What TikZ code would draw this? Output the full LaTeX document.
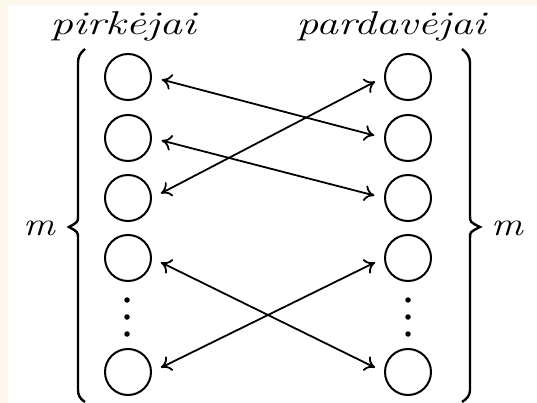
\documentclass[tikz,border=0pt]{standalone}
\usetikzlibrary{arrows.meta}
\definecolor{cream}{RGB}{253,248,236}
\begin{document}
\begin{tikzpicture}[x=1pt,y=-1pt,
  agent/.style={circle,draw,line width=2pt,minimum size=46pt,inner sep=0pt},
  link/.style={{To[length=10pt,width=16pt]}-{To[length=10pt,width=16pt]},line width=1.8pt,shorten <=10pt,shorten >=10pt},
  brc/.style={line width=2.4pt,line join=miter},
  lab/.style={inner sep=0pt,anchor=base,font=\fontsize{33}{36}\selectfont\itshape},
  dot/.style={circle,fill,inner sep=0pt,minimum size=5.5pt}]
\useasboundingbox (0,0) rectangle (537,403);
\fill[cream] (0,0) rectangle (537,5);
\fill[cream] (0,0) rectangle (8,403);
% nodes
\node[agent] (L1) at (128,77) {};
\node[agent] (L2) at (128,138) {};
\node[agent] (L3) at (128,198) {};
\node[agent] (L4) at (128,258) {};
\node[agent] (L5) at (128,372) {};
\node[agent] (R1) at (408,77) {};
\node[agent] (R2) at (408,138) {};
\node[agent] (R3) at (408,198) {};
\node[agent] (R4) at (408,258) {};
\node[agent] (R5) at (408,372) {};
\foreach \y [count=\i] in {300,317,334}{
  \node[dot] (dl\i) at (127,\y) {};
  \node[dot] (dr\i) at (408,\y) {};
}
% labels
\node[lab] (tl) at (123,35) {\scalebox{1.37}[1]{pirkėjai}};
\node[lab] (tr) at (391,35) {\scalebox{1.33}[1]{pardavėjai}};
\node[lab] (ml) at (39,235) {\scalebox{1.2}[1]{m}};
\node[lab] (mr) at (507,235) {\scalebox{1.2}[1]{m}};
% arrows
\draw[link] (L1.east) -- (R2.west);
\draw[link] (L2.east) -- (R3.west);
\draw[link] (L3.east) -- (R1.west);
\draw[link] (L4.east) -- (R5.west);
\draw[link] (L5.east) -- (R4.west);
% braces
\draw[brc] (85,49) .. controls (80,53) and (78,57) .. (78,63) -- (78,216)
  .. controls (78,222) .. (69,227) .. controls (78,232) .. (78,238) -- (78,390)
  .. controls (78,395) and (80,399) .. (85,402);
\draw[brc] (462,49) .. controls (467,53) and (470,57) .. (470,63) -- (470,216)
  .. controls (470,222) .. (480,227) .. controls (470,232) .. (470,238) -- (470,390)
  .. controls (470,395) and (467,399) .. (462,402);
\end{tikzpicture}
\end{document}
